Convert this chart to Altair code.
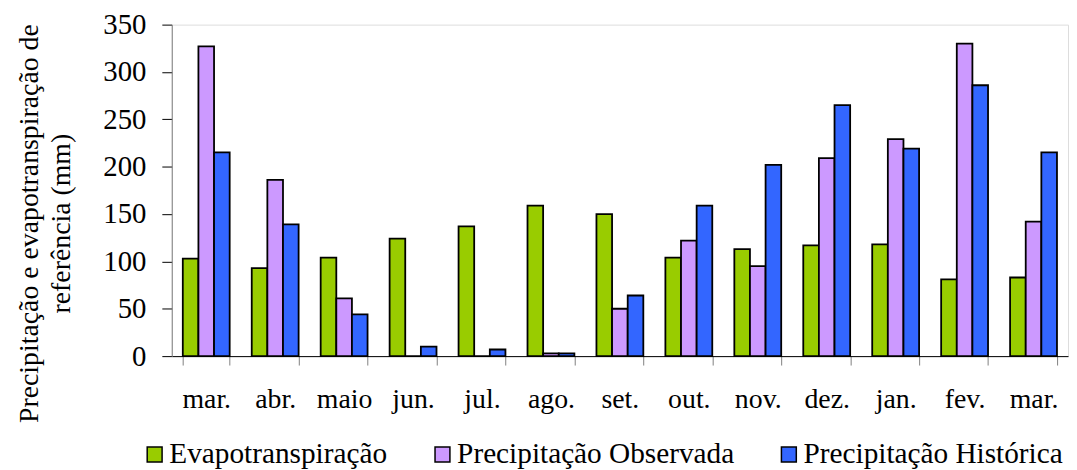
import altair as alt
import pandas as pd

months = ["mar.", "abr.", "maio", "jun.", "jul.", "ago.", "set.", "out.", "nov.", "dez.", "jan.", "fev.", "mar."]
series = ["Evapotranspiração", "Precipitação Observada", "Precipitação Histórica"]
evapo = [103, 93, 104, 124, 137, 159, 150, 104, 113, 117, 118, 81, 83]
prec_obs = [327, 186, 61, 0, 0, 3, 50, 122, 95, 209, 229, 330, 142]
prec_hist = [215, 139, 44, 10, 7, 3, 64, 159, 202, 265, 219, 286, 215]
colors = ["#99CC00", "#CC99FF", "#3366FF"]

rows = []
for i, m in enumerate(months):
    for s, vals in zip(series, [evapo, prec_obs, prec_hist]):
        rows.append({"idx": i, "mes": m, "serie": s, "valor": vals[i]})
df = pd.DataFrame(rows)

label_expr = "[" + ",".join("'" + m + "'" for m in months) + "][datum.value]"
FONT = "Liberation Serif"

chart = alt.Chart(df).mark_bar(stroke="black", strokeWidth=1.8).encode(
    x=alt.X(
        "idx:O",
        scale=alt.Scale(paddingInner=0.32, paddingOuter=0.16),
        axis=alt.Axis(
            title=None, labelExpr=label_expr, labelAngle=0, labelFont=FONT,
            labelFontSize=28, labelColor="black", tickBand="extent", tickSize=9,
            tickColor="#808080", domainColor="black", labelPadding=21,
        ),
    ),
    xOffset=alt.XOffset("serie:N", sort=series, scale=alt.Scale(paddingInner=0, paddingOuter=0)),
    y=alt.Y(
        "valor:Q",
        scale=alt.Scale(domain=[0, 350], nice=False),
        axis=alt.Axis(
            values=[0, 50, 100, 150, 200, 250, 300, 350],
            title=["Precipitação e evapotranspiração de", "referência (mm)"],
            titleFont=FONT, titleFontSize=28, titleFontWeight="normal", titleColor="black",
            titleLineHeight=32, titleX=-129, titleY=200,
            labelFont=FONT, labelFontSize=29, labelColor="black", labelPadding=16,
            tickSize=10, tickColor="black", domainColor="#808080", grid=False,
        ),
    ),
    color=alt.Color(
        "serie:N",
        sort=series,
        scale=alt.Scale(domain=series, range=colors),
        legend=alt.Legend(
            title=None, orient="none", direction="horizontal", legendX=-32, legendY=418,
            symbolType="square", symbolSize=225, symbolStrokeColor="black",
            symbolStrokeWidth=1.5, symbolOpacity=1, labelFont=FONT, labelFontSize=29.5,
            labelColor="black", labelOffset=0, columnPadding=40, padding=0,
            labelLimit=400,
        ),
    ),
).properties(
    width=903, height=334,
    padding={"left": 165, "top": 15, "right": 1, "bottom": 113},
    autosize=alt.AutoSizeParams(type="none"),
).configure_view(stroke=None).configure(background="white")

chart.save("out.html", embed_options={"renderer": "svg", "actions": False})
